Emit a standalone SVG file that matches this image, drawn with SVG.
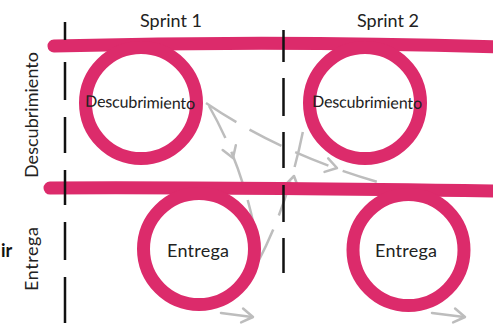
<svg xmlns="http://www.w3.org/2000/svg" width="493" height="328" viewBox="0 0 493 328">
  <style>
    .lane { fill: none; stroke: #dc2b6b; stroke-width: 13; stroke-linecap: round; }
    .ring { fill: none; stroke: #dc2b6b; stroke-width: 13; }
    .divider { fill: none; stroke: #111; stroke-width: 2.5; }
    .flow { fill: none; stroke: #bdbdbd; stroke-width: 2.5; stroke-dasharray: 36 15; }
    .head { fill: none; stroke: #bdbdbd; stroke-width: 2.5; stroke-linecap: round; stroke-linejoin: round; }
    text { font-family: Lato, "Liberation Sans", sans-serif; fill: #222; }
    .hdr { font-size: 18px; text-anchor: middle; }
    .lbl { font-size: 16px; text-anchor: middle; }
    .lbl2 { font-size: 18px; text-anchor: middle; }
  </style>
  <defs>
    <path id="ah" d="M-11,-7 L0,0 L-11,7"/>
  </defs>

  <rect width="493" height="328" fill="#fff"/>

  <!-- connectors: dashed grey flows between the loops -->
  <g id="connectors">
    <path class="flow" d="M206,103 Q290,160 400,188"/>
    <use href="#ah" class="head" transform="translate(337,168) rotate(15)"/>
    <path class="flow" d="M209,106 Q240,160 254,226"/>
    <use href="#ah" class="head" transform="translate(233,158) rotate(70)"/>
    <path class="flow" d="M258,262 Q290,200 304,126"/>
    <use href="#ah" class="head" transform="translate(294,176) rotate(-78)"/>
    <path class="head" d="M221,313 L252,317"/>
    <use href="#ah" class="head" transform="translate(253,317) rotate(8)"/>
    <path class="head" d="M432,313 L464,317"/>
    <use href="#ah" class="head" transform="translate(465,317) rotate(8)"/>
  </g>

  <!-- swimlane strokes -->
  <g id="lanes">
    <path class="lane" d="M54,46 Q280,40 499,47"/>
    <path class="lane" d="M50,188 Q200,187 499,191"/>
  </g>

  <g id="descubrimiento-1">
    <circle class="ring" cx="141" cy="103" r="55.5"/>
    <text class="lbl" x="140" y="108" textLength="110" transform="rotate(1.2 140 108)">Descubrimiento</text>
  </g>
  <g id="descubrimiento-2">
    <circle class="ring" cx="365" cy="103" r="55.5"/>
    <text class="lbl" x="367" y="108" textLength="110" transform="rotate(1 367 108)">Descubrimiento</text>
  </g>
  <g id="entrega-1">
    <circle class="ring" cx="199" cy="249" r="55.5"/>
    <text class="lbl2" x="198" y="257" textLength="62">Entrega</text>
  </g>
  <g id="entrega-2">
    <circle class="ring" cx="408.5" cy="250" r="55.5"/>
    <text class="lbl2" x="406" y="257" textLength="62">Entrega</text>
  </g>

  <!-- sprint dividers -->
  <g id="dividers">
    <path class="divider" d="M65,22V40 M65,62V100 M65,117V153 M65,170V205 M65,222V260 M65,277V323"/>
    <path class="divider" d="M283.5,30V62 M283.5,78V116 M283.5,132V168 M283.5,185V222 M283.5,238V273"/>
  </g>

  <!-- headers -->
  <g id="headers">
    <text class="hdr" x="171" y="27" textLength="62">Sprint 1</text>
    <text class="hdr" x="388" y="27" textLength="62">Sprint 2</text>
    <text class="hdr" transform="translate(38,115) rotate(-90)" textLength="126">Descubrimiento</text>
    <text class="hdr" transform="translate(38,259) rotate(-90)" textLength="64">Entrega</text>
    <text x="1" y="257" font-size="18" font-weight="bold" style="fill:#111">ir</text>
  </g>
</svg>
